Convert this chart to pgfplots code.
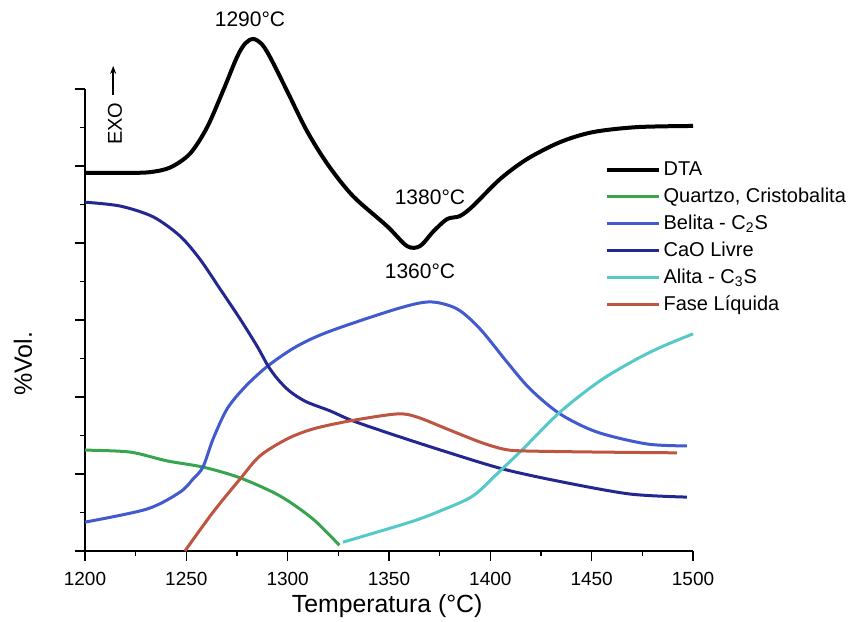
\documentclass[border=0pt]{standalone}
\usepackage{pgfplots}
\pgfplotsset{compat=1.18}
\usepackage{fontspec}
\setmainfont{Liberation Sans}
\usetikzlibrary{arrows.meta}
\definecolor{cquartz}{RGB}{55,165,80}
\definecolor{cbelita}{RGB}{65,90,205}
\definecolor{ccao}{RGB}{35,40,145}
\definecolor{calita}{RGB}{85,200,200}
\definecolor{cfase}{RGB}{190,85,65}
\begin{document}
\begin{tikzpicture}
\useasboundingbox (-42.5pt,-35pt) rectangle (384.5pt,275.5pt);
\begin{axis}[
  scale only axis, width=304pt, height=231pt,
  xmin=1200, xmax=1500, ymin=0, ymax=12,
  axis lines=left, axis line style={-, line width=1pt},
  clip=false,
  xtick={1200,1250,...,1500}, minor xtick={1225,1275,...,1475},
  ytick={0,2,...,12}, minor ytick={1,3,...,11}, yticklabels={},
  tick align=outside, major tick length=5pt, minor tick length=2.5pt,
  tick style={line width=0.8pt, black},
  /pgf/number format/assume math mode=true,
  /pgf/number format/1000 sep={},
  xticklabel style={font=\fontsize{9.5}{11}\selectfont, yshift=-2pt},
  legend style={draw=none, fill=none, at={(rel axis cs:0.855,0.848)}, anchor=north west,
    font=\fontsize{10}{12}\selectfont, row sep=2.3pt, inner sep=0pt,
    nodes={inner sep=1.2pt}},
  legend cell align=left,
  legend image code/.code={\draw[#1] (0pt,0pt) -- (26pt,0pt);},
  every axis plot/.append style={smooth, tension=0.5, line width=1.5pt},
]
% DTA
\addplot[black, line width=2pt] coordinates {
(1200,9.82) (1220,9.82) (1232,9.84) (1242,9.96) (1251.8,10.32) (1260.2,11.0) (1268.1,11.95)
(1275.0,12.83) (1279,13.18) (1282.9,13.30) (1287,13.18) (1291.3,12.83) (1299.7,11.95) (1309.5,10.91) (1319.9,10.03)
(1332.2,9.22) (1349.0,8.44) (1358.9,7.92) (1365.3,7.92) (1371.7,8.29) (1378.6,8.62)
(1385.0,8.70) (1391.4,8.96) (1404.8,9.66) (1418.1,10.18) (1434.4,10.62) (1450.6,10.88)
(1472.4,11.01) (1500,11.04)};
% Quartzo
\addplot[cquartz] coordinates {
(1200,2.62) (1222.2,2.57) (1240.5,2.34) (1258.2,2.18) (1276.5,1.90) (1296.2,1.43)
(1312.5,0.83) (1325.5,0.15)};
% Belita
\addplot[cbelita] coordinates {
(1200,0.75) (1230.6,1.09) (1246.9,1.53) (1253.3,1.87) (1258.2,2.18) (1263.2,2.91)
(1270.1,3.69) (1278.9,4.26) (1290.3,4.81) (1304.6,5.32) (1320.9,5.71) (1353.9,6.29)
(1370.2,6.47) (1383.5,6.29) (1394.9,5.77) (1408.2,4.91) (1419.6,4.21) (1434.4,3.56)
(1452.6,3.09) (1477.3,2.78) (1497.0,2.73)};
% CaO Livre
\addplot[ccao] coordinates {
(1200,9.06) (1217.3,8.96) (1233.6,8.68) (1246.9,8.18) (1256.7,7.58) (1266.6,6.81)
(1276.5,6.03) (1284.9,5.32) (1290.3,4.81) (1295,4.47) (1301,4.15) (1309,3.88) (1320.9,3.64)
(1332.2,3.38) (1353.9,2.99) (1378.6,2.57) (1406.2,2.13) (1435.8,1.79) (1468.9,1.48)
(1497.0,1.40)};
% Alita
\addplot[calita] coordinates {
(1327.3,0.23) (1360.4,0.75) (1375.2,1.04) (1391.4,1.43) (1404.8,2.08) (1416.1,2.65)
(1434.4,3.61) (1454.1,4.42) (1472.4,4.99) (1485.2,5.32) (1500,5.64)};
% Fase Liquida
\addplot[cfase] coordinates {
(1249.3,0) (1263.2,1.01) (1276.5,1.87) (1286.3,2.47) (1299.7,2.91) (1312.5,3.17)
(1330.8,3.38) (1353.9,3.56) (1363.8,3.48) (1378.6,3.17) (1394.9,2.83) (1406.2,2.65)
(1416.1,2.60) (1452.6,2.57) (1492.1,2.55)};
\legend{DTA, {Quartzo, Cristobalita}, Belita - C\textsubscript{2}S, CaO Livre, Alita - C\textsubscript{3}S, Fase Líquida}
% annotations
\node[font=\fontsize{10.5}{12}\selectfont] at (axis cs:1281.4,13.82) {1290°C};
\node[font=\fontsize{10.5}{12}\selectfont] at (axis cs:1370.2,9.18) {1380°C};
\node[font=\fontsize{10.5}{12}\selectfont] at (axis cs:1365.3,7.27) {1360°C};
\node[rotate=90, font=\fontsize{10}{11}\selectfont] at (axis cs:1214.8,11.1) {EXO};
\draw[-{Stealth[length=4pt,width=3pt]}, line width=0.7pt] (axis cs:1213.9,11.85) -- (axis cs:1213.9,12.6);
\node[rotate=90, font=\fontsize{12.5}{14}\selectfont] at (axis cs:1169.4,4.86) {\%Vol.};
\node[font=\fontsize{12.4}{14}\selectfont] at (rel axis cs:0.497,0) [yshift=-27.5pt] {Temperatura (°C)};
\end{axis}
\end{tikzpicture}
\end{document}
